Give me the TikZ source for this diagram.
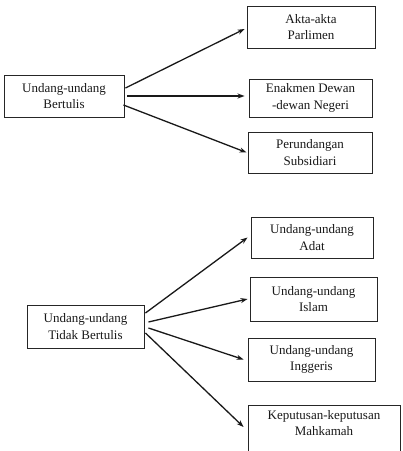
\documentclass[tikz,border=0pt]{standalone}
\usepackage{fontspec}
\setmainfont{Liberation Serif}
\usetikzlibrary{arrows.meta}
\begin{document}
\begin{tikzpicture}[x=1pt,y=-1pt,
  box/.style={draw=black!85, line width=0.9pt, rectangle, inner sep=0pt, align=center,
    font=\fontsize{13}{16.5}\selectfont, text=black!90},
  lbl/.style={inner sep=0pt, align=center, font=\fontsize{13}{16.5}\selectfont, text=black!90},
  conn/.style={draw=black!90, line width=1.3pt, -{Stealth[length=7pt,width=5pt]}}]
\useasboundingbox (0,0) rectangle (403,451);
\fill[white] (0,0) rectangle (403,451);
% top group
\node[box, minimum width=120pt, minimum height=42pt] (b) at (64,96) {Undang-undang\\Bertulis};
\node[box, minimum width=128pt, minimum height=42pt] (akta) at (311,27) {Akta-akta\\Parlimen};
\node[box, minimum width=123pt, minimum height=38pt] (enak) at (310.5,98) {Enakmen Dewan\\-dewan Negeri};
\node[box, minimum width=124pt, minimum height=41pt] (peru) at (310,152.5) {Perundangan\\Subsidiari};
% bottom group
\node[box, minimum width=117pt, minimum height=43pt] (t) at (85.5,326.5) {Undang-undang\\Tidak Bertulis};
\node[box, minimum width=122pt, minimum height=41pt] (adat) at (312,237.5) {Undang-undang\\Adat};
\node[box, minimum width=127pt, minimum height=44pt] (islam) at (313.5,299) {Undang-undang\\Islam};
\node[box, minimum width=127pt, minimum height=43pt] (ingg) at (311.5,359.5) {Undang-undang\\Inggeris};
\node[box, minimum width=152pt, minimum height=52pt] (kep) at (324,431) {};
\node[lbl] (keptext) at (324,423) {Keputusan-keputusan\\Mahkamah};
% connectors top
\draw[conn] ([xshift=1pt,yshift=8pt]b.east) -- ([xshift=-2pt,yshift=-2pt]akta.west);
\draw[conn] ([xshift=3pt]b.east) -- ([xshift=-4pt,yshift=2pt]enak.west);
\draw[conn] ([xshift=-1pt,yshift=-9pt]b.east) -- ([xshift=-1pt]peru.west);
% connectors bottom
\draw[conn] ([xshift=1pt,yshift=13.5pt]t.east) -- ([xshift=-3pt]adat.west);
\draw[conn] ([xshift=4pt,yshift=4.5pt]t.east) -- ([xshift=-2pt]islam.west);
\draw[conn] ([xshift=4pt,yshift=-1.5pt]t.east) -- ([xshift=-4pt]ingg.west);
\draw[conn] ([xshift=1pt,yshift=-6.5pt]t.east) -- ([xshift=-4pt,yshift=4pt]kep.west);
\end{tikzpicture}
\end{document}
